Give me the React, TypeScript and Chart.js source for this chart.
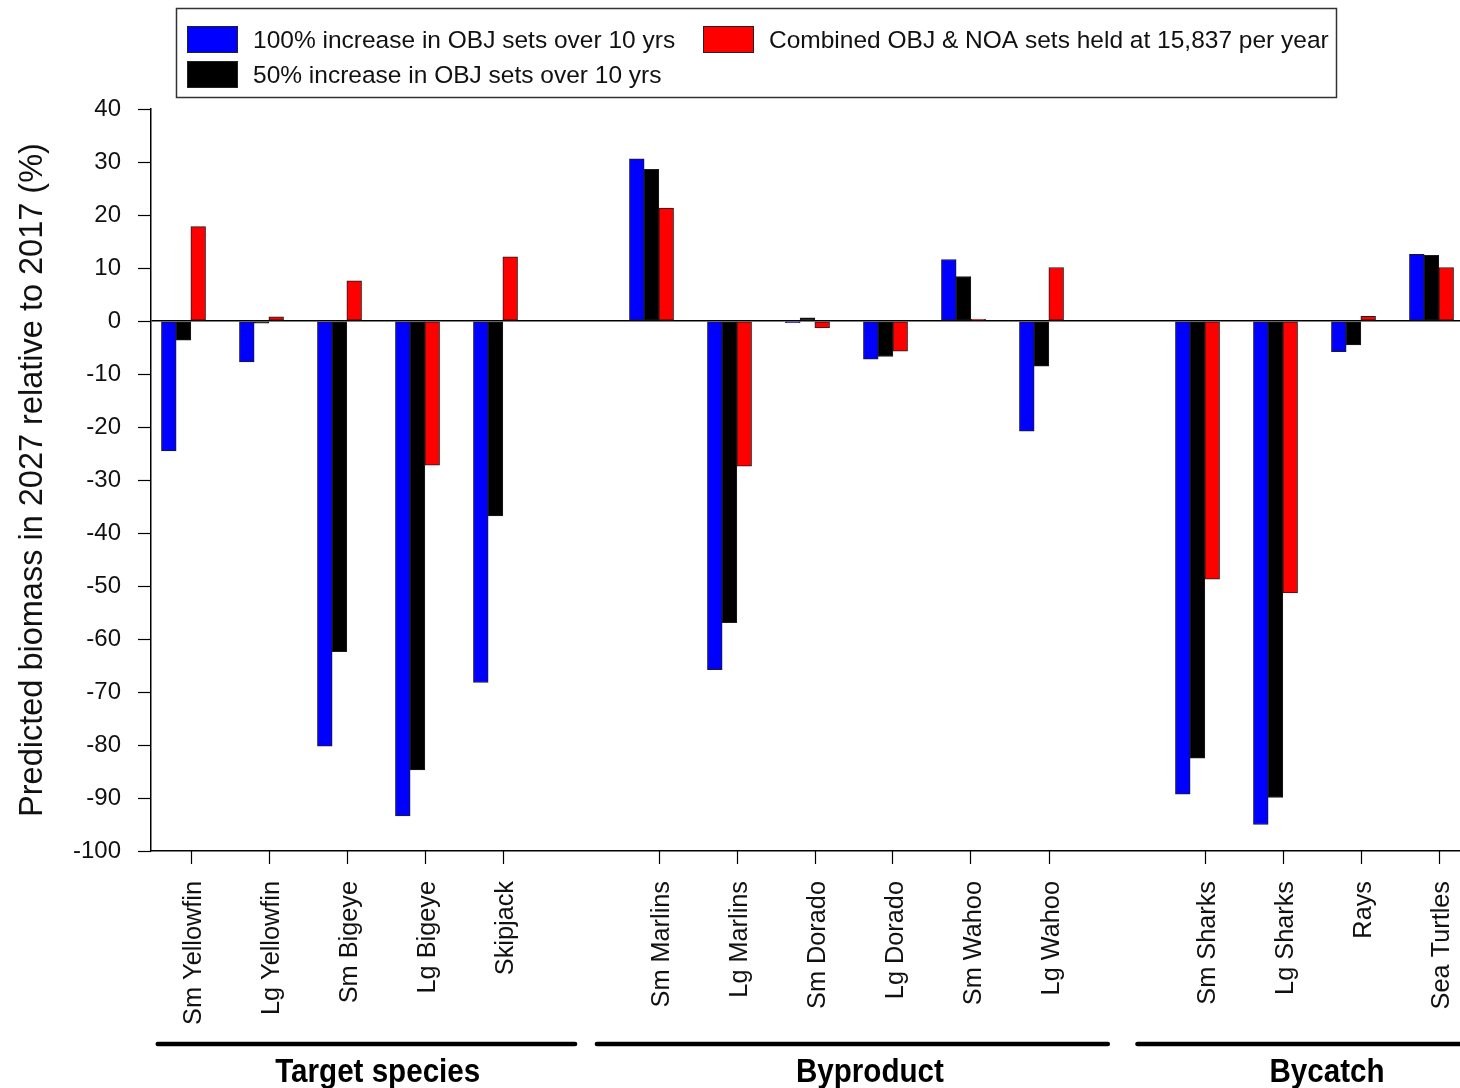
import React, { useEffect, useRef } from "react";
import { Chart, registerables } from "chart.js";

Chart.register(...registerables);

// ---------- data ----------
const categories = [
  "Sm Yellowfin", "Lg Yellowfin", "Sm Bigeye", "Lg Bigeye", "Skipjack", "",
  "Sm Marlins", "Lg Marlins", "Sm Dorado", "Lg Dorado", "Sm Wahoo", "Lg Wahoo", "",
  "Sm Sharks", "Lg Sharks", "Rays", "Sea Turtles",
];
const increase100 = [-24.5, -7.7, -80.2, -93.4, -68.2, null, 30.6, -65.8, -0.3, -7.2, 11.6, -20.8, null, -89.3, -95.0, -5.8, 12.6];
const increase50 = [-3.6, -0.4, -62.4, -84.7, -36.8, null, 28.6, -56.9, 0.6, -6.7, 8.4, -8.5, null, -82.5, -89.9, -4.5, 12.4];
const combined = [17.8, 0.8, 7.6, -27.2, 12.1, null, 21.3, -27.4, -1.3, -5.7, 0.3, 10.1, null, -48.7, -51.3, 0.9, 10.1];
const seriesLabels = [
  "100% increase in OBJ sets over 10 yrs",
  "50% increase in OBJ sets over 10 yrs",
  "Combined OBJ & NOA sets held at 15,837 per year",
];
const seriesColors = ["#0000ff", "#000000", "#ff0000"];
const yTickValues = [40, 35, 30, 25, 20, 15, 10, 5, 0, -5, -10, -15, -20, -25, -30, -35, -40, -45, -50, -55, -60, -65, -70, -75, -80, -85, -90, -95, -100];
const yTitle = "Predicted biomass in 2027 relative to 2017 (%)";
const groupNames = ["Target species", "Byproduct", "Bycatch"];
// extents of group underlines and label centres, in category units
const groupFrom = [-0.33, 5.3, 12.23];
const groupTo = [5.02, 11.85, 17.0];
const groupMid = [2.49, 8.8, 14.66];

// ---------- layout constants ----------
const FONT = "'Liberation Sans', Arial, Helvetica, sans-serif";
const TICK_SHIFT = 7 / 78;
const X_MIN = -32.5 / 78;
const X_MAX = X_MIN + 17;

const toPoints = (arr: (number | null)[]) =>
  arr.map((v, i) => ({ x: i, y: v })).filter((p) => p.y !== null);

const decorPlugin = {
  id: "decor",
  afterDraw(chart: any) {
    const ctx = chart.ctx as CanvasRenderingContext2D;
    const xs = chart.scales.x;
    const ys = chart.scales.y;
    ctx.save();
    // y tick marks (major / minor)
    ctx.strokeStyle = "#000";
    ctx.lineWidth = 1.2;
    ys.ticks.forEach((t: any) => {
      const y = Math.round(ys.getPixelForValue(t.value)) + 0.5;
      const len = t.value % 10 === 0 ? 13 : 6;
      ctx.beginPath();
      ctx.moveTo(ys.right - len, y);
      ctx.lineTo(ys.right, y);
      ctx.stroke();
    });
    // x tick marks
    xs.ticks.forEach((t: any) => {
      const x = Math.round(xs.getPixelForValue(t.value)) + 0.5;
      ctx.beginPath();
      ctx.moveTo(x, xs.top);
      ctx.lineTo(x, xs.top + 13);
      ctx.stroke();
    });
    // group underlines and labels
    ctx.lineWidth = 4.5;
    ctx.lineCap = "round";
    ctx.fillStyle = "#000";
    ctx.textAlign = "center";
    ctx.textBaseline = "alphabetic";
    ctx.font = "bold 34px " + FONT;
    groupNames.forEach((name, i) => {
      const x1 = xs.getPixelForValue(groupFrom[i]);
      const x2 = xs.getPixelForValue(groupTo[i]);
      ctx.beginPath();
      ctx.moveTo(x1, 1044);
      ctx.lineTo(x2, 1044);
      ctx.stroke();
      ctx.save();
      ctx.translate(xs.getPixelForValue(groupMid[i]), 1082);
      ctx.scale(0.87, 1);
      ctx.fillText(name, 0, 0);
      ctx.restore();
    });
    // boxed legend
    ctx.lineCap = "butt";
    ctx.lineWidth = 1.5;
    ctx.strokeStyle = "#333";
    ctx.strokeRect(176.5, 8.5, 1160, 89);
    const slots = [
      { ds: 0, x: 187, y: 26 },
      { ds: 2, x: 703, y: 26 },
      { ds: 1, x: 187, y: 61 },
    ];
    ctx.font = "24.5px " + FONT;
    ctx.textAlign = "left";
    ctx.textBaseline = "middle";
    slots.forEach((s) => {
      const ds = chart.data.datasets[s.ds];
      ctx.fillStyle = ds.backgroundColor;
      ctx.fillRect(s.x, s.y, 51, 27);
      ctx.lineWidth = 1;
      ctx.strokeStyle = "#222";
      ctx.strokeRect(s.x + 0.5, s.y + 0.5, 50, 26);
      ctx.fillStyle = "#111";
      ctx.fillText(ds.label, s.x + 66, s.y + 15);
    });
    ctx.restore();
  },
};

export default function App() {
  const ref = useRef<HTMLCanvasElement | null>(null);
  useEffect(() => {
    if (!ref.current) return;
    const chart = new Chart(ref.current, {
      type: "bar",
      data: {
        datasets: [increase100, increase50, combined].map((arr, k) => ({
          label: seriesLabels[k],
          data: toPoints(arr) as any,
          backgroundColor: seriesColors[k],
          borderColor: "#1c1c1c",
          borderWidth: 1,
          borderSkipped: false,
          barThickness: 14.7,
        })),
      },
      options: {
        responsive: false,
        animation: false,
        layout: { padding: { top: 109, left: 0, right: 0, bottom: 0 } },
        plugins: { legend: { display: false }, tooltip: { enabled: false } },
        scales: {
          x: {
            type: "linear",
            min: X_MIN,
            max: X_MAX,
            offset: false,
            afterBuildTicks: (s: any) => {
              s.ticks = categories
                .map((c, i) => (c ? { value: i + TICK_SHIFT } : null))
                .filter(Boolean);
            },
            afterFit: (s: any) => {
              s.height = 237;
              s.paddingLeft = 0;
              s.paddingRight = 0;
            },
            grid: { display: false, drawTicks: false },
            border: { display: true, color: "#000", width: 1.5 },
            ticks: {
              autoSkip: false,
              minRotation: 90,
              maxRotation: 90,
              padding: 30,
              labelOffset: 4,
              color: "#111",
              font: { family: FONT, size: 25.3 },
              callback: (v: any) => categories[Math.round(Number(v))],
            },
          },
          y: {
            type: "linear",
            min: -100,
            max: 40,
            afterBuildTicks: (s: any) => {
              s.ticks = yTickValues.map((v) => ({ value: v }));
            },
            afterFit: (s: any) => {
              s.width = 151;
            },
            grid: {
              drawTicks: false,
              color: (c: any) => (c.tick && c.tick.value === 0 ? "#000" : "rgba(0,0,0,0)"),
              lineWidth: 1.5,
            },
            border: { display: true, color: "#000", width: 1.5 },
            ticks: {
              padding: 30,
              color: "#111",
              font: { family: FONT, size: 24 },
              callback: (v: any) => (Number(v) % 10 === 0 ? String(v) : ""),
            },
            title: {
              display: true,
              text: yTitle,
              color: "#111",
              font: { family: FONT, size: 32.5 },
              padding: { top: 14, bottom: 0 },
            },
          },
        },
      },
      plugins: [decorPlugin],
    });
    return () => chart.destroy();
  }, []);

  return (
    <div
      style={{
        position: "absolute",
        left: 0,
        top: 0,
        width: 1460,
        height: 1088,
        overflow: "hidden",
        background: "#fff",
      }}
    >
      <canvas ref={ref} width={1477} height={1088} style={{ display: "block" }} />
    </div>
  );
}
